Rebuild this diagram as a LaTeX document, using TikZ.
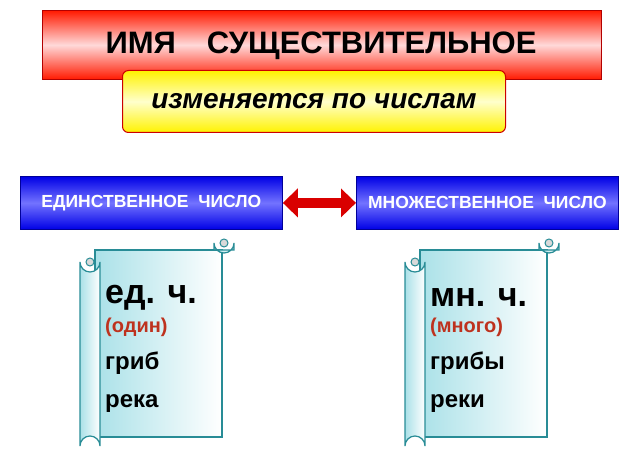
\documentclass[tikz,border=0pt]{standalone}
\usepackage{fontspec}
\setmainfont{Liberation Sans}
\usetikzlibrary{arrows.meta}
\definecolor{tealedge}{RGB}{40,140,150}
\definecolor{scrollfill}{RGB}{170,225,232}
\definecolor{redtxt}{RGB}{190,50,30}
\tikzset{
  titlebox/.style={draw=red!70!black, line width=0.8pt, top color=red!80!orange, bottom color=red!80!orange, middle color=red!15!white},
  subbox/.style={draw=red!80!black, line width=1pt, rounded corners=6pt, top color=yellow!90!orange, bottom color=yellow!90!orange, middle color=yellow!20!white},
  numbox/.style={draw=blue!60!black, line width=0.8pt, top color=blue!90!black, bottom color=blue!90!black, middle color=blue!55!white},
  scrollpart/.style={draw=tealedge, line width=1.2pt, left color=scrollfill, right color=white},
  word/.style={anchor=west, inner sep=0pt, font=\bfseries\fontsize{24}{24}\selectfont}
}
\begin{document}
\begin{tikzpicture}[x=1pt,y=-1pt]
\useasboundingbox (0,0) rectangle (638,457);
\node[titlebox, minimum width=559pt, minimum height=69pt, anchor=north west, inner sep=0pt] (title) at (42,10) {};
\node at (321,46) {\bfseries\fontsize{31}{31}\selectfont ИМЯ\quad СУЩЕСТВИТЕЛЬНОЕ};
\node[subbox, minimum width=383pt, minimum height=62pt, anchor=north west, font=\bfseries\itshape\fontsize{28}{28}\selectfont] (sub) at (122,70) {изменяется по числам};
\node[numbox, minimum width=262pt, minimum height=53pt, anchor=north west, text=white, font=\bfseries\fontsize{17.5}{17.5}\selectfont] (sg) at (20,176) {ЕДИНСТВЕННОЕ\ \ ЧИСЛО};
\node[numbox, minimum width=262pt, minimum height=53pt, anchor=north west, text=white, font=\bfseries\fontsize{17.5}{17.5}\selectfont] (pl) at (356,176) {МНОЖЕСТВЕННОЕ\ \ ЧИСЛО};
\draw[{Triangle[length=15pt,width=28pt]}-{Triangle[length=15pt,width=28pt]}, line width=10pt, red!85!black] (sg.east) -- (pl.west);
\foreach \dx/\big/\paren/\wa/\wb in {0/ед. ч./(один)/гриб/река, 325/мн. ч./(много)/грибы/реки}{
  \begin{scope}[xshift=\dx]
  \draw[scrollpart] (95,250) -- (222,250) -- (222,437) -- (95,437) -- cycle;
  \draw[scrollpart] (214,243) arc[start angle=180,end angle=0,radius=10] -- (234,250) -- (214,250) -- cycle;
  \draw[tealedge, line width=1pt, fill=gray!30] (224,243) circle (4);
  \draw[scrollpart] (80,262) arc[start angle=180,end angle=0,radius=10] -- (100,446) arc[start angle=0,end angle=-180,radius=10] -- cycle;
  \draw[tealedge, line width=1pt, fill=gray!30] (90,262) circle (4);
  \node[word, font=\bfseries\fontsize{34}{34}\selectfont] at (105,298) {\big};
  \node[word, text=redtxt, font=\bfseries\fontsize{20}{20}\selectfont] at (105,327) {\paren};
  \node[word] at (105,363) {\wa};
  \node[word] at (105,404) {\wb};
  \end{scope}
}
\end{tikzpicture}
\end{document}
